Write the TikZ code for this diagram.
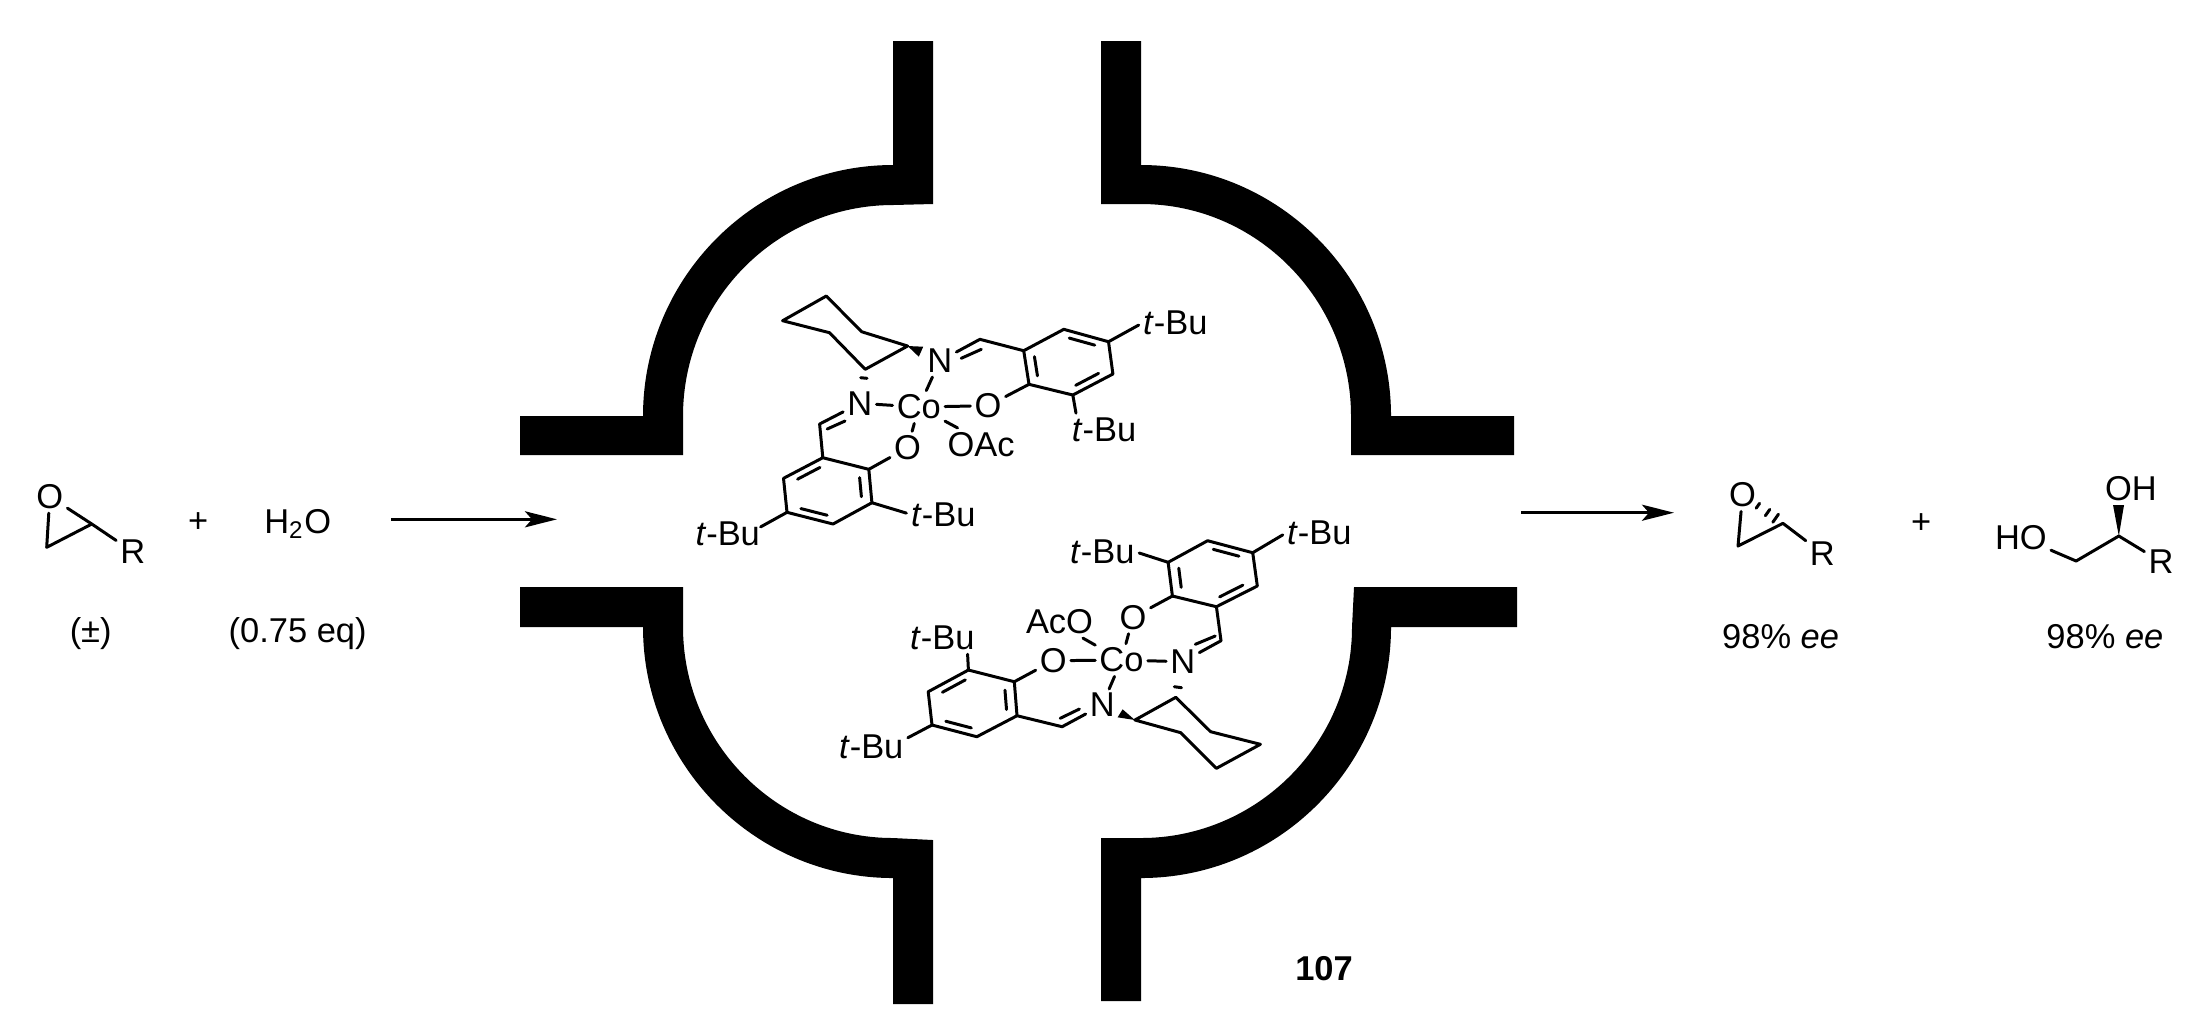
\documentclass[tikz,border=0pt]{standalone}
\usepackage{fontspec}
\setmainfont{Liberation Sans}
\usetikzlibrary{arrows.meta}
\usetikzlibrary{calc}
\tikzset{
  wall/.style={fill=black},
  bond/.style={line width=0.85pt,line cap=round,line join=round},
  tbond/.style={bond,shorten >=1.2pt},
  atom/.style={inner sep=1pt,font=\fontsize{9.8}{11}\selectfont},
  lbl/.style={inner sep=0pt,font=\fontsize{9.8}{11}\selectfont},
  rxn/.style={line width=0.85pt,-{Stealth[length=0.32cm,width=0.16cm,inset=0.07cm]}}
}
% inner line of a ring double bond, pulled toward the ring centre
\newcommand{\ringdbl}[3]{\draw[bond] ($($(#1)!0.13!(#2)$)!0.23!(#3)$) -- ($($(#2)!0.13!(#1)$)!0.23!(#3)$);}
\newcommand{\tbu}{\textit{t}-Bu}
\begin{document}
\begin{tikzpicture}[x=0.01cm,y=-0.01cm]
\useasboundingbox (0,0) rectangle (2204,1026);
% the four walls
\fill[wall] (893,41) -- (933,41) -- (933,204) -- (893,205) .. controls (777,205) and (683,300) .. (683,416) -- (683,455) -- (520,455) -- (520,416) -- (643,416) .. controls (643,278) and (755,165) .. (893,165) -- cycle;
\fill[wall] (1101,41) -- (1141,41) -- (1141,165) .. controls (1279,165) and (1391,278) .. (1391,416) -- (1514,416) -- (1514,455) -- (1351,455) -- (1351,416) .. controls (1351,300) and (1257,204) .. (1141,204) -- (1101,204) -- cycle;
\fill[wall] (520,587) -- (683,587) -- (683,627) .. controls (683,743) and (777,838) .. (893,838) -- (933,840) -- (933,1004) -- (893,1004) -- (893,878) .. controls (755,878) and (643,765) .. (643,627) -- (520,627) -- cycle;
\fill[wall] (1101,838) -- (1141,838) .. controls (1257,838) and (1352,743) .. (1352,627) -- (1354,587) -- (1517,587) -- (1517,627) -- (1391,627) .. controls (1391,765) and (1279,878) .. (1141,878) -- (1141,1001) -- (1101,1001) -- cycle;
% substrate side
\node[atom] (ox1) at (49.8,496.7) {O};
\node[atom] (rr1) at (132.8,551.7) {R};
\coordinate (ep1) at (46.7,547.3);
\coordinate (ep2) at (91.8,524);
\draw[bond] (ox1) -- (ep1) -- (ep2) -- (ox1);
\draw[bond] (ep2) -- (rr1);
\node[lbl] (pl1) at (198.2,522.7) {+};
\node[lbl] (wat) at (297.7,524) {H\textsubscript{2}O};
\node[lbl] (rac) at (90.7,634) {(±)};
\node[lbl] (eqv) at (297.7,634) {(0.75 eq)};
\coordinate (ar1a) at (391,519.3);
\coordinate (ar1b) at (557,519.3);
\draw[rxn] (ar1a) -- (ar1b);
% upper catalyst
\node[atom] (co1) at (918.8,407) {Co};
\node[atom] (na1) at (939.7,361) {N};
\node[atom] (nb1) at (859.8,403.3) {N};
\node[atom] (oa1) at (988,405.7) {O};
\node[atom] (ob1) at (907.6,447.7) {O};
\node[atom] (oc1) at (981,444.3) {OAc};
\node[lbl] (tb1) at (1175.3,323) {\tbu};
\node[lbl] (tb2) at (1104,430) {\tbu};
\node[lbl] (tb3) at (943.3,514.3) {\tbu};
\node[lbl] (tb4) at (727.7,533.3) {\tbu};
\coordinate (c1) at (826.3,296);
\coordinate (c2) at (782.6,320.7);
\coordinate (c3) at (829.5,332.7);
\coordinate (c4) at (865.2,369.3);
\coordinate (c5) at (907.6,346);
\coordinate (c6) at (861.6,331.7);
\draw[bond] (c5) -- (c6) -- (c1) -- (c2) -- (c3) -- (c4) -- (c5);
\fill (c5) -- ([shift={(15.6,0.7)}]c5) -- ([shift={(11.2,10.7)}]c5) -- cycle;
\draw[bond] ([shift={(-4.5,8.4)}]c4) -- ([shift={(1.8,9)}]c4);
\draw[bond] (na1) -- (co1);
\draw[bond] (nb1) -- (co1);
\draw[bond] (oa1) -- (co1);
\draw[bond] (ob1) -- (co1);
\draw[bond] (oc1.145) -- (co1);
\coordinate (ch1) at (979.9,339.3);
\coordinate (r1) at (1023.7,350.7);
\coordinate (r2) at (1063.8,329.3);
\coordinate (r3) at (1108.5,341.7);
\coordinate (r4) at (1112.9,374);
\coordinate (r5) at (1072.8,395);
\coordinate (r6) at (1029,384.3);
\coordinate (rc) at (1068,362);
\draw[bond] (na1) -- (ch1) -- (r1) -- (r2) -- (r3) -- (r4) -- (r5) -- (r6) -- (r1);
\draw[bond] ([shift={(-18.7,19)}]ch1) -- ([shift={(1.4,10)}]ch1);
\ringdbl{r1}{r6}{rc}
\ringdbl{r2}{r3}{rc}
\ringdbl{r4}{r5}{rc}
\draw[bond] (r6) -- (oa1);
\draw[tbond] (r3) -- (tb1.west);
\draw[tbond] (r5) -- (tb2.155);
\coordinate (ch2) at (819.6,424);
\coordinate (s1) at (822.8,457.7);
\coordinate (s2) at (868.8,469.3);
\coordinate (s3) at (871.9,502.7);
\coordinate (s4) at (833,524);
\coordinate (s5) at (787,512.3);
\coordinate (s6) at (783.5,478.3);
\coordinate (sc) at (827.5,491);
\draw[bond] (nb1) -- (ch2) -- (s1) -- (s2) -- (s3) -- (s4) -- (s5) -- (s6) -- (s1);
\draw[bond] ([shift={(25.4,-3)}]ch2) -- ([shift={(7.6,5)}]ch2);
\ringdbl{s1}{s6}{sc}
\ringdbl{s2}{s3}{sc}
\ringdbl{s4}{s5}{sc}
\draw[bond] (s2) -- (ob1);
\draw[tbond] (s3) -- (tb3.west);
\draw[bond] (s5) -- (tb4.11);
% lower catalyst
\node[atom] (co2) at (1121.5,660) {Co};
\node[atom] (na2) at (1182.7,661.7) {N};
\node[atom] (nb2) at (1102.3,705) {N};
\node[atom] (oa2) at (1053.3,660.7) {O};
\node[atom] (ob2) at (1133,617.3) {O};
\node[atom] (oc2) at (1059.5,621.7) {AcO};
\node[lbl] (tb5) at (1319.3,532.7) {\tbu};
\node[lbl] (tb6) at (1102.3,551.7) {\tbu};
\node[lbl] (tb7) at (942.4,637.3) {\tbu};
\node[lbl] (tb8) at (871.2,746.7) {\tbu};
\coordinate (d1) at (1260.4,744.3);
\coordinate (d2) at (1216.4,768.3);
\coordinate (d3) at (1180.8,732.7);
\coordinate (d4) at (1134.9,720);
\coordinate (d5) at (1175.8,697.3);
\coordinate (d6) at (1210.6,731.7);
\draw[bond] (d4) -- (d3) -- (d2) -- (d1) -- (d6) -- (d5) -- (d4);
\fill (d4) -- ([shift={(-12.3,-10.7)}]d4) -- ([shift={(-17.3,-2.7)}]d4) -- cycle;
\draw[bond] ([shift={(-1.5,-10.6)}]d5) -- ([shift={(5.7,-9.6)}]d5);
\draw[bond] (na2) -- (co2);
\draw[bond] (nb2) -- (co2);
\draw[bond] (oa2) -- (co2);
\draw[bond] (ob2) -- (co2);
\draw[bond] (oc2.-35) -- (co2);
\coordinate (ch3) at (1221,640.7);
\coordinate (u1) at (1216.4,606.7);
\coordinate (u2) at (1257.3,586);
\coordinate (u3) at (1252.7,552.7);
\coordinate (u4) at (1207.6,540.7);
\coordinate (u5) at (1168.1,562.3);
\coordinate (u6) at (1172.4,596);
\coordinate (uc) at (1212.5,573);
\draw[bond] (na2) -- (ch3) -- (u1) -- (u2) -- (u3) -- (u4) -- (u5) -- (u6) -- (u1);
\draw[bond] ([shift={(-25.7,3.6)}]ch3) -- ([shift={(-5.8,-4.7)}]ch3);
\ringdbl{u1}{u2}{uc}
\ringdbl{u3}{u4}{uc}
\ringdbl{u5}{u6}{uc}
\draw[bond] (u6) -- (ob2);
\draw[tbond] (u3) -- (tb5.west);
\draw[tbond] (u5) -- (tb6.east);
\coordinate (ch4) at (1062.1,726.7);
\coordinate (l1) at (1014.3,681.7);
\coordinate (l2) at (968.4,670);
\coordinate (l3) at (928.2,691.7);
\coordinate (l4) at (932,725);
\coordinate (l5) at (976.8,736.7);
\coordinate (l6) at (1017,715.7);
\coordinate (lc) at (972.5,703.5);
\draw[bond] (nb2) -- (ch4) -- (l6) -- (l1) -- (l2) -- (l3) -- (l4) -- (l5) -- (l6);
\draw[bond] ([shift={(-1.9,-8.4)}]ch4) -- ([shift={(17.3,-17.7)}]ch4);
\ringdbl{l1}{l6}{lc}
\ringdbl{l2}{l3}{lc}
\ringdbl{l4}{l5}{lc}
\draw[bond] (l1) -- (oa2);
\draw[tbond] (l2) -- (tb7.-27);
\draw[tbond] (l4) -- (tb8.12);
\node[lbl,font=\fontsize{9.8}{11}\selectfont\bfseries] (cat) at (1324,968.3) {107};
% product side
\coordinate (ar2a) at (1521,512.7);
\coordinate (ar2b) at (1674,512.7);
\draw[rxn] (ar2a) -- (ar2b);
\node[atom] (ox2) at (1742.5,495) {O};
\node[atom] (rr2) at (1822.4,553.3) {R};
\coordinate (ep3) at (1738,546);
\coordinate (ep4) at (1782.9,523.3);
\draw[bond] (ox2) -- (ep3) -- (ep4) -- (rr2);
\foreach \t/\h in {0.18/1.4pt,0.38/1.1pt,0.62/0.85pt}
\draw[bond] ($(ep4)!\t!(ox2.center)!\h!90:(ox2.center)$) -- ($(ep4)!\t!(ox2.center)!\h!-90:(ox2.center)$);
\node[lbl] (pl2) at (1921.2,524) {+};
\node[atom] (ho) at (2020.9,537.3) {HO};
\node[atom] (oh) at (2130.9,488.3) {OH};
\node[atom] (rr3) at (2161,561.7) {R};
\coordinate (gl1) at (2076.1,561);
\coordinate (gl2) at (2118.8,536);
\draw[bond] (ho) -- (gl1) -- (gl2) -- (rr3);
\fill (gl2) -- ([shift={(-5.8,-31)}]gl2) -- ([shift={(5.2,-31)}]gl2) -- cycle;
\node[lbl] (ee1) at (1780.6,636.7) {98\% \textit{ee}};
\node[lbl] (ee2) at (2104.9,636.7) {98\% \textit{ee}};
\end{tikzpicture}
\end{document}
